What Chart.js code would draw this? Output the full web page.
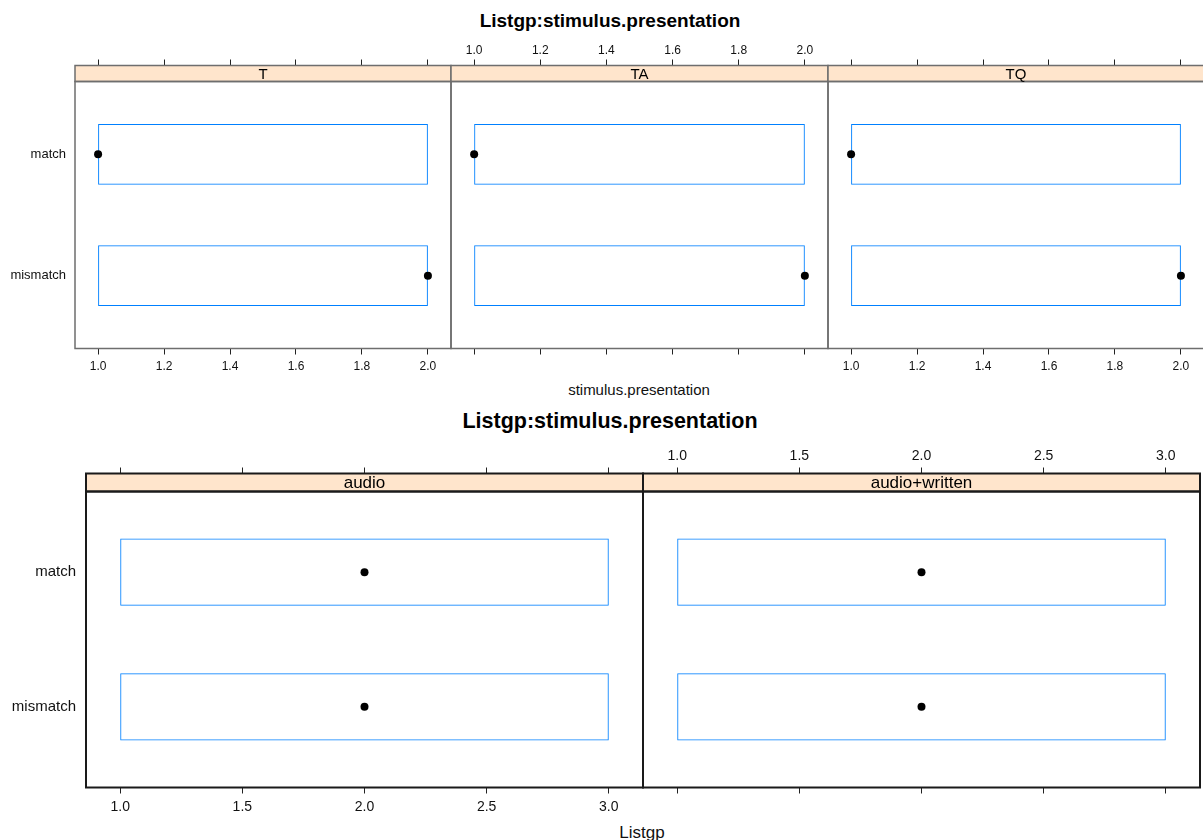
<!DOCTYPE html>
<html><head><meta charset="utf-8">
<script src="https://cdn.jsdelivr.net/npm/chart.js@4/dist/chart.umd.min.js"></script>
<style>
html,body{margin:0;padding:0;background:#fff;}
#wrap{position:relative;width:1203px;height:840px;overflow:hidden;font-family:"Liberation Sans",Arial,sans-serif;background:#fff;}
canvas{position:absolute;}
.t{position:absolute;white-space:nowrap;transform:translate(-50%,-50%);color:#000;line-height:1;}
</style></head><body><div id="wrap">
<div class="t" style="left:610px;top:20px;font-size:19px;font-weight:bold">Listgp:stimulus.presentation</div>
<div class="t" style="left:639px;top:389px;font-size:15px;color:#111">stimulus.presentation</div>
<div class="t" style="left:610px;top:422px;font-size:21.5px;font-weight:bold">Listgp:stimulus.presentation</div>
<div class="t" style="left:642px;top:832px;font-size:17px;color:#111">Listgp</div>
</div>
<script>
// ---- data ----
const categories = ['match', 'mismatch'];

const topPanels = ['T', 'TA', 'TQ'];
const topBoxLower = [[1, 1], [1, 1], [1, 1]];
const topBoxUpper = [[2, 2], [2, 2], [2, 2]];
const topMedians = [[1, 2], [1, 2], [1, 2]];
const topTicks = [1.0, 1.2, 1.4, 1.6, 1.8, 2.0];

const bottomPanels = ['audio', 'audio+written'];
const bottomBoxLower = [[1, 1], [1, 1]];
const bottomBoxUpper = [[3, 3], [3, 3]];
const bottomMedians = [[2, 2], [2, 2]];
const bottomTicks = [1.0, 1.5, 2.0, 2.5, 3.0];

// ---- rendering ----
Chart.defaults.font.family = '"Liberation Sans", Arial, sans-serif';
Chart.defaults.color = '#111';
const wrap = document.getElementById('wrap');
const FAM = '"Liberation Sans", Arial, sans-serif';
// category i is placed at level (n - i) so the first level sits on top
const catLevel = i => categories.length - i;

function makePanel(o) {
  const pad = 10;
  const cLeft = o.showY ? 0 : o.left - pad;
  const cRight = o.left + o.width + pad;
  const cw = cRight - cLeft;
  const ch = o.cBottom - o.cTop;
  const canvas = document.createElement('canvas');
  canvas.width = cw; canvas.height = ch;
  canvas.style.left = cLeft + 'px';
  canvas.style.top = o.cTop + 'px';
  canvas.style.width = cw + 'px';
  canvas.style.height = ch + 'px';
  wrap.appendChild(canvas);
  const topH = o.pTop - o.cTop;
  const botH = o.cBottom - o.pBottom;
  const tickFmt = v => Number(v).toFixed(1);

  const deco = {
    id: 'deco',
    afterDraw(chart) {
      const a = chart.chartArea, ctx = chart.ctx;
      ctx.save();
      ctx.fillStyle = '#ffe5cc';
      ctx.fillRect(a.left, a.top - o.stripH, a.right - a.left, o.stripH);
      ctx.strokeStyle = o.frameColor;
      ctx.lineWidth = o.frameW;
      ctx.strokeRect(a.left, a.top - o.stripH, a.right - a.left, o.stripH);
      ctx.strokeRect(a.left, a.top, a.right - a.left, a.bottom - a.top);
      ctx.fillStyle = '#000';
      ctx.font = o.stripFont + 'px ' + FAM;
      ctx.textAlign = 'center';
      ctx.textBaseline = 'middle';
      ctx.fillText(o.name, (a.left + a.right) / 2, a.top - o.stripH / 2 + 1);
      ctx.restore();
    }
  };

  new Chart(canvas, {
    type: 'bar',
    data: {
      datasets: [
        {
          type: 'scatter',
          data: categories.map((c, i) => ({ x: o.medians[i], y: catLevel(i) })),
          xAxisID: 'x', yAxisID: 'y',
          pointRadius: 4, pointBackgroundColor: '#000', pointBorderColor: '#000',
          pointBorderWidth: 0, showLine: false
        },
        {
          type: 'bar',
          indexAxis: 'y',
          data: categories.map((c, i) => ({ x: [o.lower[i], o.upper[i]], y: catLevel(i) })),
          xAxisID: 'x', yAxisID: 'y',
          backgroundColor: 'rgba(0,0,0,0)', borderColor: '#0080ff', borderWidth: 1,
          borderSkipped: false, barPercentage: 0.5, categoryPercentage: 1
        }
      ]
    },
    options: {
      responsive: false, animation: false, devicePixelRatio: 1, events: [],
      indexAxis: 'y',
      layout: { padding: { left: o.showY ? 0 : pad, right: pad, top: 0, bottom: 0 } },
      plugins: { legend: { display: false }, tooltip: { enabled: false }, title: { display: false } },
      scales: {
        x: {
          type: 'linear', axis: 'x', position: 'bottom', min: o.xmin, max: o.xmax, bounds: 'data',
          offset: false, beginAtZero: false,
          afterBuildTicks: s => { s.ticks = o.ticks.map(v => ({ value: v })); },
          afterFit: s => { s.height = botH; },
          ticks: { display: !o.labelsTop, callback: tickFmt, padding: o.botPad, font: { size: o.tickFont },
                   color: '#111', autoSkip: false, maxRotation: 0, minRotation: 0 },
          grid: { display: true, offset: false, drawOnChartArea: false, drawTicks: true, tickLength: 6,
                  tickColor: '#222', tickWidth: 1, color: '#222' },
          border: { display: false }
        },
        xt: {
          type: 'linear', axis: 'x', position: 'top', min: o.xmin, max: o.xmax, bounds: 'data',
          offset: false, beginAtZero: false,
          afterBuildTicks: s => { s.ticks = o.ticks.map(v => ({ value: v })); },
          afterFit: s => { s.height = topH; },
          ticks: { display: o.labelsTop, callback: tickFmt, padding: o.topPad, font: { size: o.tickFont },
                   color: '#111', autoSkip: false, maxRotation: 0, minRotation: 0 },
          grid: { display: true, offset: false, drawOnChartArea: false, drawTicks: true, tickLength: o.stripH + 6,
                  tickColor: '#222', tickWidth: 1, color: '#222' },
          border: { display: false }
        },
        y: {
          type: 'linear', axis: 'y', position: 'left', min: 0.4, max: categories.length + 0.6, bounds: 'data',
          offset: false, beginAtZero: false,
          display: o.showY,
          afterBuildTicks: s => { s.ticks = categories.map((c, i) => ({ value: catLevel(i) })); },
          afterFit: s => { if (o.showY) s.width = o.yW; },
          ticks: { callback: v => categories[categories.length - v], padding: o.yPad, font: { size: o.yFont },
                   color: '#111', autoSkip: false },
          grid: { display: false, offset: false, drawTicks: false, tickLength: 0 },
          border: { display: false }
        }
      }
    },
    plugins: [deco]
  });
}

// top figure
const topLefts = [75, 451, 828];
const topWidths = [376, 377, 376];
topPanels.forEach((name, p) => {
  makePanel({
    name, lower: topBoxLower[p], upper: topBoxUpper[p], medians: topMedians[p], ticks: topTicks,
    xmin: 0.93, xmax: 2.07,
    left: topLefts[p], width: topWidths[p], showY: p === 0, yW: topLefts[0], yPad: 9, yFont: 13,
    cTop: 36, pTop: 81.5, pBottom: 348.5, cBottom: 380, stripH: 16, stripFont: 15,
    tickFont: 12, topPad: 2, botPad: 5, labelsTop: p % 2 === 1,
    frameColor: '#6e6e6e', frameW: 1.5
  });
});

// bottom figure
const botLefts = [86, 643];
const botWidths = [557, 557];
bottomPanels.forEach((name, p) => {
  makePanel({
    name, lower: bottomBoxLower[p], upper: bottomBoxUpper[p], medians: bottomMedians[p], ticks: bottomTicks,
    xmin: 0.86, xmax: 3.14,
    left: botLefts[p], width: botWidths[p], showY: p === 0, yW: botLefts[0], yPad: 10, yFont: 15,
    cTop: 436, pTop: 491.5, pBottom: 787.5, cBottom: 822, stripH: 18, stripFont: 17,
    tickFont: 14, topPad: 3, botPad: 5, labelsTop: p % 2 === 1,
    frameColor: '#1a1a1a', frameW: 2
  });
});
</script>
</body></html>
